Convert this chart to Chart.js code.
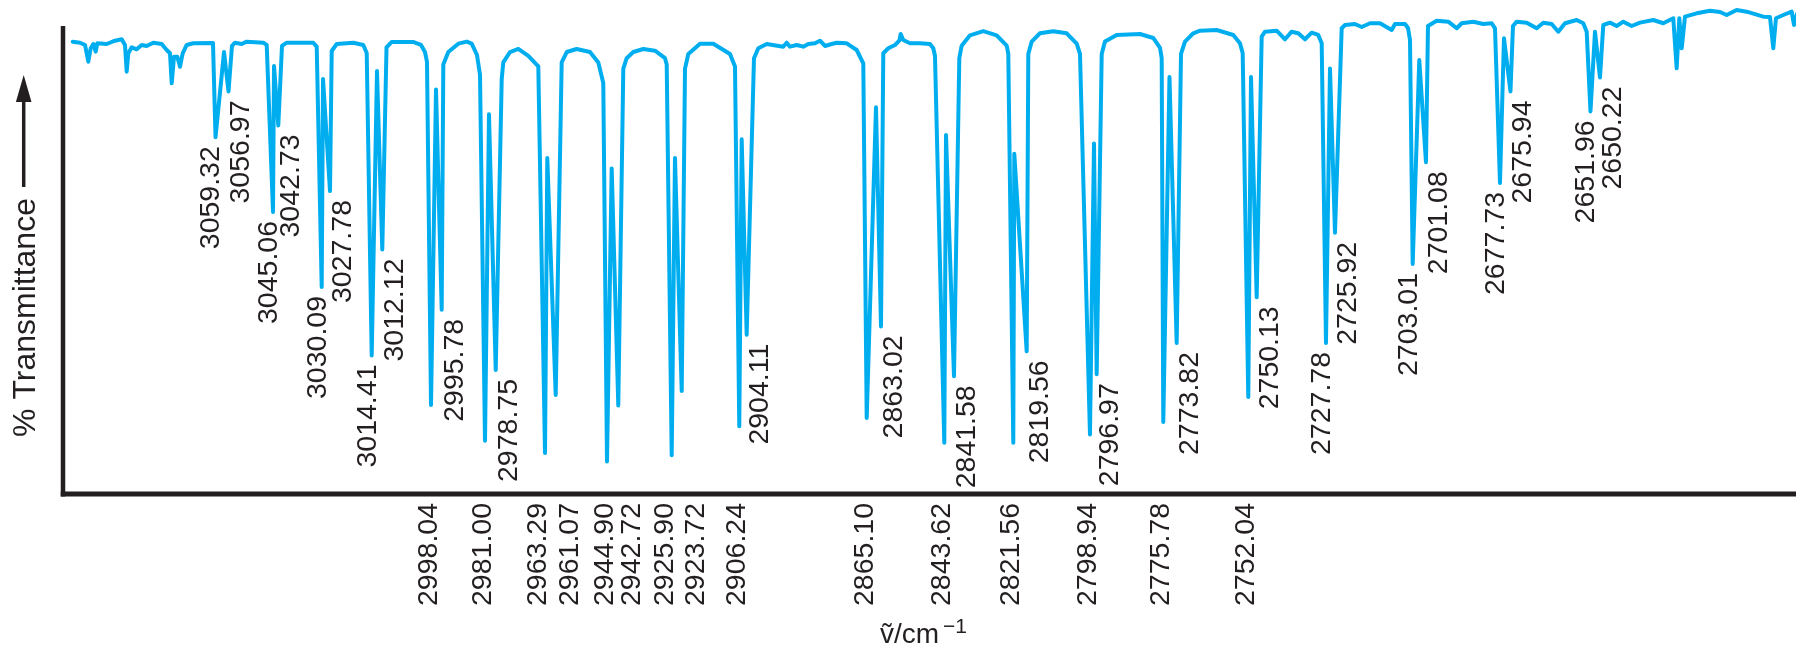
<!DOCTYPE html>
<html><head><meta charset="utf-8">
<script src="https://cdn.jsdelivr.net/npm/chart.js@4.4.0/dist/chart.umd.min.js"></script>
<style>html,body{margin:0;padding:0;background:#fff;overflow:hidden}canvas{display:block}</style>
</head><body>
<canvas id="c" width="1796" height="652"></canvas>
<script>
// ---- Spectrum trace between the labelled peaks (wavenumber cm-1, % transmittance) ----
const traceWavenumber = [
3103.48,3101.30,3099.81,3098.82,3098.11,3097.33,3096.61,3096.14,3093.33,3090.85,3088.85,3087.87,3087.36,3086.88,3085.86,3084.37,3082.88,3081.39,3079.42,3076.91,3075.41,3074.43,3073.92,3073.23,3072.25,3071.44,3070.64,3069.44,3067.47,3061.59,
3058.30,3055.92,3055.02,3053.02,3051.53,3046.57,3045.55,3043.37,3040.99,3039.58,3031.64,3030.62,3028.74,3026.14,3024.65,3019.70,3016.71,3015.69,3012.62,3009.78,3008.23,3001.87,2999.48,2998.29,2997.69,
2995.00,2992.82,2991.33,2988.34,2985.83,2984.34,2982.76,2981.86,2979.18,2975.38,2974.91,2972.90,2970.43,2967.44,2964.45,2961.77,2957.47,2955.97,2952.99,2949.02,2946.54,2945.05,
2942.54,2939.07,2938.06,2936.09,2933.10,2929.61,2926.62,2926.11,2923.64,2920.65,2919.66,2916.17,2912.20,2907.21,2905.72,2903.72,
2900.05,2898.76,2896.25,2891.30,2890.28,2889.30,2887.30,2885.33,2883.83,2881.83,2880.34,2878.85,2876.84,2875.35,2872.37,2869.38,2867.41,2863.62,
2861.44,2859.94,2857.94,2856.66,2856.24,2855.47,2853.46,2850.48,2847.49,2846.51,2846.00,2842.71,
2838.74,2838.03,2835.55,2831.58,2827.58,2824.59,2824.11,2822.32,2818.14,2817.12,2814.65,2810.68,2806.67,2803.69,2802.70,2798.52,
2796.22,2795.24,2791.74,2784.79,2780.82,2778.81,2778.31,2775.98,2772.54,2771.35,2768.87,2766.87,2761.88,2756.93,2754.93,2754.12,2751.64,
2748.45,2747.46,2743.97,2741.49,2739.49,2737.52,2735.52,2733.52,2731.55,2730.53,2728.05,
2724.56,2723.57,2720.59,2718.59,2716.11,2713.12,2709.63,2708.64,2705.66,2704.76,2704.16,2701.39,
2698.79,2696.19,2692.73,2690.22,2688.73,2685.26,2682.28,2679.77,2678.78,2676.10,
2673.41,2672.30,2669.32,2666.33,2664.36,2661.85,2659.88,2657.88,2654.39,2652.42,2651.40,2648.92,
2646.45,2644.44,2642.44,2640.47,2637.96,2635.49,2631.52,2628.53,2625.54,2624.53,2623.75,2623.03,2622.05,2618.56,2614.58,2611.60,2609.60,2606.61,2603.63,2598.67,2596.67,2595.68,2594.88,2592.70,2590.19,2589.50,2588.61
];
const traceTransmittance = [
96.65,96.43,95.94,92.37,95.24,96.15,94.51,96.30,96.15,96.86,97.16,95.94,90.24,94.17,95.45,95.02,95.94,95.73,96.43,96.15,94.87,94.17,87.76,93.44,93.44,91.30,94.17,95.94,96.30,96.37,
94.44,95.73,96.43,96.15,96.65,96.43,95.94,91.45,95.73,96.43,96.43,95.58,88.68,94.66,96.15,96.43,95.94,94.23,90.39,95.41,96.58,96.58,95.94,94.44,92.31,
86.45,91.79,94.44,96.22,96.67,96.22,93.80,89.57,81.13,88.68,92.22,94.44,95.09,93.59,91.35,71.80,92.22,94.44,95.09,94.44,92.22,87.82,
69.57,90.90,93.12,94.44,95.09,94.72,93.12,91.79,71.80,90.90,94.02,96.22,96.22,94.02,91.35,75.79,
93.12,95.24,96.15,95.58,96.43,95.58,95.94,95.58,96.15,96.30,96.86,95.73,96.15,96.43,96.30,94.87,92.03,82.63,
94.17,95.24,95.94,96.86,98.29,97.01,96.30,96.30,96.15,95.24,93.59,76.71,
93.12,95.79,98.01,98.89,98.01,95.79,94.02,72.69,94.02,96.67,98.44,98.89,98.44,96.22,94.02,74.91,
94.02,96.67,98.08,98.29,97.44,95.34,93.12,89.10,94.02,96.67,98.44,99.00,99.15,98.08,96.30,94.17,89.10,
97.71,98.78,99.00,97.16,98.78,98.44,97.16,98.57,98.08,96.30,90.92,
99.51,100.21,100.43,99.79,100.58,100.58,99.15,100.43,100.43,99.57,97.01,92.73,
100.00,101.13,100.92,99.51,100.58,100.92,100.43,100.58,99.51,97.37,
100.00,100.92,100.71,99.51,100.71,100.43,98.78,100.58,101.28,100.58,98.78,98.78,
100.21,100.71,100.00,100.92,100.00,100.71,101.28,100.58,101.65,90.96,101.65,95.24,101.99,102.71,103.27,102.99,102.35,103.42,103.06,101.99,101.92,95.24,101.65,102.35,103.06,100.21,102.56
];

// ---- Labelled peaks: label text, wavenumber where the minimum is drawn, minimum % transmittance ----
const peakLabels = ['3059.32','3056.97','3045.06','3042.73','3030.09','3027.78','3014.41','3012.12','2998.04','2995.78',
'2981.00','2978.75','2963.29','2961.07','2944.90','2942.72','2925.90','2923.72','2906.24','2904.11',
'2865.10','2863.02','2843.62','2841.58','2821.56','2819.56','2798.94','2796.97','2775.78','2773.82',
'2752.04','2750.13','2727.78','2725.92','2703.01','2701.08','2677.73','2675.94','2651.96','2650.22'];
const peakWavenumber = [3060.84,3056.96,3043.67,3042.09,3029.13,3026.65,3014.20,3011.04,2996.49,2993.30,
2980.37,2977.17,2962.45,2959.26,2943.94,2940.57,2924.62,2921.63,2904.44,2902.23,
2866.39,2862.12,2843.22,2840.33,2822.62,2818.62,2799.72,2797.72,2777.83,2773.83,
2752.45,2749.94,2729.25,2726.56,2703.36,2699.39,2677.29,2674.16,2650.27,2647.43];
const peakTransmittance = [76.24,86.01,60.26,78.74,44.23,64.74,29.59,52.24,19.02,39.36,
11.39,26.50,8.76,21.15,6.94,18.93,8.27,22.03,14.49,34.04,
16.26,35.81,10.94,25.15,10.94,30.49,12.71,25.60,15.38,32.27,
20.73,42.03,32.27,55.81,49.15,70.90,66.45,86.01,81.75,88.99];
const peakLabelRow = ['in','in','in','in','in','in','in','in','below','in',
'below','in','below','below','below','below','below','below','below','in',
'below','in','below','in','below','in','below','in','below','in',
'below','in','in','in','in','in','in','in','in','in'];
const peakLabelSide = ['L','R','L','R','L','R','L','R','C','R',
'C','R','L','R','C','R','L','R','C','R',
'C','R','C','R','C','R','C','R','C','R',
'C','R','L','R','L','R','L','R','L','R'];

// ---- Axis titles and ranges ----
const xTitle = '\u1E7D/cm';
const xTitleSup = '\u22121';
const yTitle = '% Transmittance';
const xMin = 2588.90, xMax = 3106.38;
const yMin = 0, yMax = 104.27, yAxisTop = 100;

// ---- styles ----
const LINE = '#00aeef';
const INK = '#231f20';
const FONT = '"Liberation Sans", Arial, "DejaVu Sans", sans-serif';
const nudge = { in: {L:-4, R:13, C:0}, below: {L:-7, C:-2, R:14} };

// build spectrum table from the arrays
const spectrum = traceWavenumber.map((w,i)=>({x:w, y:traceTransmittance[i]}))
  .concat(peakWavenumber.map((w,i)=>({x:w, y:peakTransmittance[i]})))
  .sort((a,b)=>b.x-a.x);

const overlay = {
  id:'overlay',
  afterDatasetsDraw(chart){
    const {ctx, chartArea, scales:{x, y}} = chart;
    const ax = chartArea.left, ay = chartArea.bottom;
    const top = y.getPixelForValue(yAxisTop);
    ctx.save();
    ctx.strokeStyle = INK; ctx.lineCap = 'butt';
    ctx.lineWidth = 4.5;
    ctx.beginPath(); ctx.moveTo(ax, top); ctx.lineTo(ax, ay + 2.5); ctx.stroke();
    ctx.lineWidth = 5;
    ctx.beginPath(); ctx.moveTo(ax - 2.25, ay); ctx.lineTo(chartArea.right, ay); ctx.stroke();

    // peak labels
    ctx.fillStyle = INK;
    ctx.font = '28.5px ' + FONT;
    ctx.textAlign = 'right'; ctx.textBaseline = 'middle';
    peakLabels.forEach((t,i)=>{
      const px = x.getPixelForValue(peakWavenumber[i]);
      let lx, ly;
      if (peakLabelRow[i] === 'in') {
        lx = px + nudge.in[peakLabelSide[i]];
        ly = y.getPixelForValue(peakTransmittance[i]) + 9;
      } else {
        lx = px + nudge.below[peakLabelSide[i]];
        ly = ay + 9;
      }
      ctx.save(); ctx.translate(lx, ly); ctx.rotate(-Math.PI/2); ctx.fillText(t, 0, 0); ctx.restore();
    });

    // y title with arrow
    ctx.font = '32px ' + FONT;
    ctx.textAlign = 'center'; ctx.textBaseline = 'alphabetic';
    ctx.save(); ctx.translate(35, 317.5); ctx.rotate(-Math.PI/2); ctx.fillText(yTitle, 0, 0); ctx.restore();
    ctx.lineWidth = 3.5;
    ctx.beginPath(); ctx.moveTo(23.7, 187); ctx.lineTo(23.7, 100); ctx.stroke();
    ctx.beginPath(); ctx.moveTo(23.7, 75); ctx.lineTo(31.5, 102); ctx.lineTo(15.9, 102); ctx.closePath(); ctx.fill();

    // x title
    ctx.font = '28px ' + FONT;
    ctx.textAlign = 'left'; ctx.textBaseline = 'alphabetic';
    ctx.fillText(xTitle, 880, 643);
    const w = ctx.measureText(xTitle).width;
    ctx.font = '21px ' + FONT;
    ctx.fillText(xTitleSup, 880 + w + 4, 633);
    ctx.restore();
  }
};

new Chart(document.getElementById('c'), {
  type:'line',
  data:{datasets:[{data:spectrum, borderColor:LINE, borderWidth:4, pointRadius:0, tension:0, fill:false,
    borderJoinStyle:'round', borderCapStyle:'round'}]},
  options:{
    responsive:false, animation:false, devicePixelRatio:1, events:[],
    layout:{padding:{left:63, top:6, right:0, bottom:158}},
    scales:{
      x:{type:'linear', reverse:true, min:xMin, max:xMax, display:false},
      y:{min:yMin, max:yMax, display:false}
    },
    plugins:{legend:{display:false}, tooltip:{enabled:false}}
  },
  plugins:[overlay]
});
</script>
</body></html>
